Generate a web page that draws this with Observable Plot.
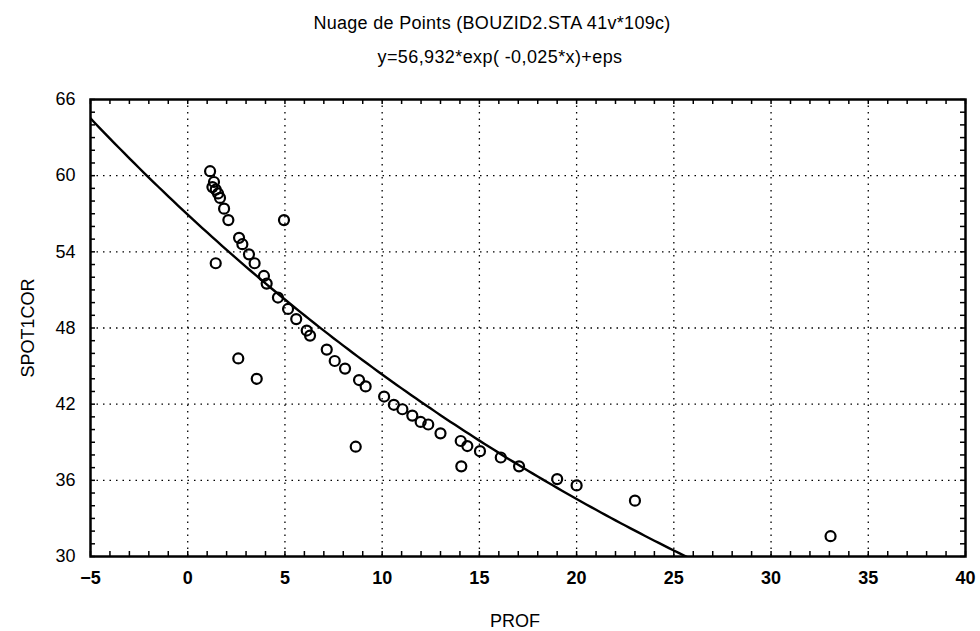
<!DOCTYPE html>
<html>
<head>
<meta charset="utf-8">
<script src="https://cdn.jsdelivr.net/npm/d3@7"></script>
<script src="https://cdn.jsdelivr.net/npm/@observablehq/plot@0.6"></script>
<style>
  html, body { margin: 0; padding: 0; background: white; }
  #wrap { position: relative; width: 980px; height: 631px; font-family: "Liberation Sans", Arial, sans-serif; color: black; }
  .t { position: absolute; left: 0; width: 980px; text-align: center; font-size: 18px; line-height: 18px; letter-spacing: 0.3px; white-space: nowrap; }
  #t1 { top: 14px; transform: translateX(2px); }
  #t2 { top: 48px; transform: translateX(10px); letter-spacing: 0.4px; }
  #chart { position: absolute; left: 0; top: 90px; }
</style>
</head>
<body>
<div id="wrap">
  <div class="t" id="t1">Nuage de Points (BOUZID2.STA 41v*109c)</div>
  <div class="t" id="t2">y=56,932*exp( -0,025*x)+eps</div>
  <div id="chart"></div>
</div>
<script>
// Observed points: PROF (x) and SPOT1COR (y)
const prof = [1.15, 1.35, 1.27, 1.44, 1.56, 1.66, 1.87, 2.09, 4.95, 1.44,
  2.64, 2.81, 3.15, 3.44, 3.92, 4.06, 4.64, 5.16, 5.58, 6.12,
  6.29, 2.6, 3.55, 7.15, 7.56, 8.09, 8.81, 9.15, 8.64, 10.1,
  10.6, 11.04, 11.55, 11.98, 12.37, 13.0, 14.04, 14.38, 14.07, 15.03,
  16.1, 17.04, 19.0, 20.0, 23.0, 33.06];
const spot1cor = [60.35, 59.5, 59.1, 58.9, 58.6, 58.25, 57.4, 56.5, 56.5, 53.1,
  55.1, 54.6, 53.8, 53.1, 52.1, 51.5, 50.4, 49.5, 48.7, 47.8,
  47.4, 45.6, 44.0, 46.3, 45.4, 44.8, 43.9, 43.4, 38.65, 42.6,
  41.95, 41.6, 41.1, 40.6, 40.4, 39.7, 39.1, 38.7, 37.1, 38.3,
  37.8, 37.1, 36.1, 35.6, 34.4, 31.6];

// Fitted model shown in the subtitle: y = 56,932*exp(-0,025*x)
const fitA = 56.932;
const fitB = -0.025;

// Axes
const xTicks = [-5, 0, 5, 10, 15, 20, 25, 30, 35, 40];
const yTicks = [30, 36, 42, 48, 54, 60, 66];
const xGrid = [0, 5, 10, 15, 20, 25, 30, 35];
const yGrid = [36, 42, 48, 54, 60];
const xDomain = [-5, 40];
const yDomain = [30, 66];
const xMinor = d3.range(-5, 41, 1);
const yMinor = d3.range(30, 67, 1);

const points = prof.map((x, i) => ({x, y: spot1cor[i]}));
const curveX = d3.range(-5, 27.01, 0.25);
const curve = curveX.map(x => ({x, y: fitA * Math.exp(fitB * x)}));

const W = 980, H = 541, mT = 9, mB = 75, mL = 90, mR = 15;
const tickPx = 5;
const tyLen = tickPx * (yDomain[1] - yDomain[0]) / (H - mT - mB);
const txLen = tickPx * (xDomain[1] - xDomain[0]) / (W - mL - mR);

const gridStyle = {stroke: "black", strokeOpacity: 1, strokeWidth: 1.3, strokeDasharray: "1.5,5"};
const tickStyle = {stroke: "black", strokeWidth: 1.5};

const chart = Plot.plot({
  width: W, height: H,
  marginTop: mT, marginBottom: mB, marginLeft: mL, marginRight: mR,
  style: {fontFamily: "'Liberation Sans', Arial, sans-serif", fontSize: "18px", background: "white", color: "black", overflow: "visible"},
  x: {domain: xDomain},
  y: {domain: yDomain},
  marks: [
    Plot.gridX(xGrid, gridStyle),
    Plot.gridY(yGrid, gridStyle),
    Plot.axisX(xTicks, {anchor: "bottom", tickSize: 0, tickPadding: 15, fontWeight: "bold", label: null}),
    Plot.axisY(yTicks, {anchor: "left", tickSize: 0, tickPadding: 15, label: null}),
    Plot.ruleX(xMinor, {x: d => d, y1: yDomain[0], y2: yDomain[0] + tyLen, ...tickStyle}),
    Plot.ruleX(xMinor, {x: d => d, y1: yDomain[1], y2: yDomain[1] - tyLen, ...tickStyle}),
    Plot.ruleY(yMinor, {y: d => d, x1: xDomain[0], x2: xDomain[0] + txLen, ...tickStyle}),
    Plot.ruleY(yMinor, {y: d => d, x1: xDomain[1], x2: xDomain[1] - txLen, ...tickStyle}),
    Plot.line(curve, {x: "x", y: "y", stroke: "black", strokeWidth: 2.4, clip: true}),
    Plot.dot(points, {x: "x", y: "y", r: 5, stroke: "black", strokeWidth: 2.2, fill: "none"}),
    Plot.frame({stroke: "black", strokeWidth: 2.5}),
    Plot.text(["SPOT1COR"], {text: d => d, frameAnchor: "left", dx: -62, rotate: -90, textAnchor: "middle", lineAnchor: "middle", fontSize: 18, letterSpacing: 1}),
    Plot.text(["PROF"], {text: d => d, frameAnchor: "bottom", dy: 65, dx: -13, textAnchor: "middle", lineAnchor: "middle", fontSize: 18})
  ]
});
document.getElementById("chart").appendChild(chart);
</script>
</body>
</html>
